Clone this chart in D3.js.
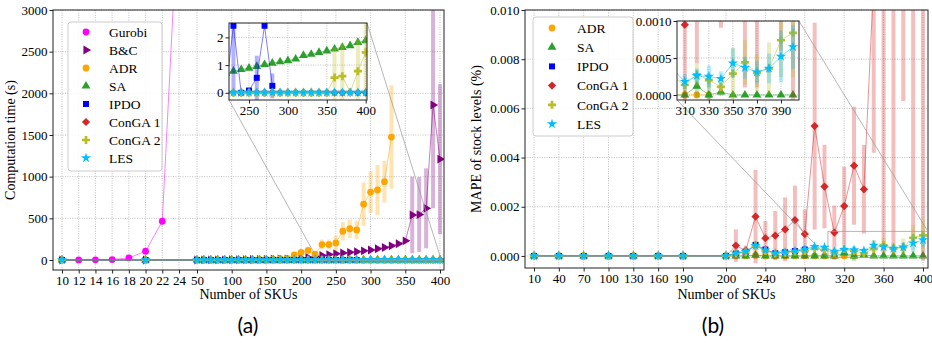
<!DOCTYPE html>
<html>
<head>
<meta charset="utf-8">
<script src="https://cdn.jsdelivr.net/npm/d3@7"></script>
<style>
  body { margin: 0; background: #fff; }
  svg text { font-family: "Liberation Serif", "Times New Roman", serif; fill: #000; }
</style>
</head>
<body>
<svg id="chart" width="932" height="343"></svg>
<script>
// ---- data: (a) computation time (s) ----
const skusGurobi = [10, 12, 14, 16, 18, 20, 22, 24];
const gurobiTime = [0.5, 1, 2, 5, 25, 105, 465, 4400];

const skusA = [10, 20, 50, 60, 70, 80, 90, 100, 110, 120, 130, 140, 150, 160, 170, 180, 190,
  200, 210, 220, 230, 240, 250, 260, 270, 280, 290, 300, 310, 320, 330, 340, 350, 360, 370, 380, 390, 400];

const bcTime = [0, 0.1, 0.5, 0.8, 1, 1.5, 2, 3, 4, 5, 6, 7, 8, 10, 12, 14, 17,
  20, 30, 40, 55, 65, 75, 85, 92, 100, 110, 120, 135, 150, 170, 195, 230, 540, 545, 620, 1860, 1210];
const bcStd = [0, 0, 0, 0, 0, 0, 0, 0, 0, 0, 0, 0, 0, 0, 0, 0, 0,
  0, 0, 0, 0, 0, 0, 0, 0, 0, 0, 0, 0, 0, 0, 0, 0, 460, 450, 480, 1240, 900];

const adrTime = [0.05, 0.1, 0.3, 0.5, 0.8, 1, 1.5, 2, 3, 4, 5, 6, 8, 10, 15, 18, 60,
  90, 115, 70, 185, 185, 205, 345, 375, 360, 670, 815, 840, 940, 1475, null, null, null, null, null, null, null];
const adrStd = [0, 0, 0, 0, 0, 0, 0, 0, 0, 0, 0, 0, 0, 0, 10, 10, 15,
  20, 25, 40, 60, 60, 90, 110, 110, 110, 260, 250, 300, 250, 620, null, null, null, null, null, null, null];

const saTime = [0.01, 0.02, 0.1, 0.12, 0.15, 0.18, 0.2, 0.23, 0.26, 0.3, 0.33, 0.37, 0.4, 0.44, 0.48, 0.52, 0.56,
  0.6, 0.65, 0.7, 0.78, 0.84, 0.89, 0.95, 1.02, 1.07, 1.12, 1.16, 1.22, 1.35, 1.39, 1.46, 1.51, 1.58, 1.64, 1.7, 1.82, 1.88];

const ipdoTime = [0, 0.01, 0.01, 0.01, 0.01, 0.01, 0.01, 0.01, 0.01, 0.02, 0.02, 0.02, 0.02, 0.02, 0.02, 0.02, 0.02,
  0.02, 0.03, 0.03, 2.42, 0, 0.08, 0.54, 2.42, 0.25, null, null, null, null, null, null, null, null, null, null, null, null];
const ipdoStd = [0, 0, 0, 0, 0, 0, 0, 0, 0, 0, 0, 0, 0, 0, 0, 0, 0,
  0, 0, 0, 2.5, 0, 0.1, 0.8, 0, 0.45, null, null, null, null, null, null, null, null, null, null, null, null];

const conga1Time = [0, 0, 0.01, 0.01, 0.01, 0.01, 0.01, 0.01, 0.01, 0.01, 0.01, 0.01, 0.01, 0.01, 0.01, 0.01, 0.01,
  0.01, 0.01, 0.01, 0.01, 0.01, 0.01, 0.01, 0.01, 0.01, 0.01, 0.01, 0.01, 0.01, 0.01, 0.01, 0.01, 0.01, 0.01, 0.01, 0.01, 0.01];

const conga2Time = [0, 0, 0, 0, 0, 0, 0, 0, 0, 0, 0, 0, 0, 0, 0, 0, 0,
  0, 0, 0, 0, 0, 0, 0, 0, 0, 0, 0, 0, 0, 0, 0, 0, 0.55, 0.6, 0.02, 0.78, 1.46];
const conga2Std = [0, 0, 0, 0, 0, 0, 0, 0, 0, 0, 0, 0, 0, 0, 0, 0, 0,
  0, 0, 0, 0, 0, 0, 0, 0, 0, 0, 0, 0, 0, 0, 0, 0, 1.1, 1.2, 0, 1.15, 1.6];

const lesTime = [0, 0, 0.01, 0.01, 0.01, 0.01, 0.01, 0.01, 0.01, 0.01, 0.01, 0.01, 0.01, 0.01, 0.01, 0.01, 0.01,
  0.01, 0.01, 0.01, 0.01, 0.01, 0.01, 0.01, 0.01, 0.01, 0.01, 0.01, 0.01, 0.01, 0.01, 0.01, 0.01, 0.01, 0.01, 0.01, 0.01, 0.01];

// ---- data: (b) MAPE of stock levels (%) ----
const skusB = [10, 40, 70, 100, 130, 160, 190, 200, 210, 220, 230, 240, 250, 260, 270, 280,
  290, 300, 310, 320, 330, 340, 350, 360, 370, 380, 390, 400];

const adrMape = [0, 0, 0, 0, 0, 0, 0, 0, 0, 0, 0.00002, 0, 0, 0, 0, 0,
  0, 0, 0, 0, 0, null, null, null, null, null, null, null];
const saMape = [0, 0, 0, 0, 0, 0, 0, 0, 0, 0, 0.00003, 0, 0, 0, 0, 0,
  0, 0, 0, 0.00012, 0, 0.00004, 0, 0, 0, 0, 0, 0];
const saMapeStd = [0, 0, 0, 0, 0, 0, 0, 0, 0, 0, 0, 0, 0, 0, 0, 0,
  0, 0, 0, 0.00015, 0.0002, 0.00005, 0, 0, 0, 0, 0, 0];
const ipdoMape = [0, 0, 0, 0, 0, 0, 0, 0, 0.0001, 0.00017, 0.00045, 0.00026, 0.00011, 0.00015, 0.0002, 0.00026,
  null, null, null, null, null, null, null, null, null, null, null, null];
const conga1Mape = [0, 0, 0, 0, 0, 0, 0, 0, 0.00042, 0.00022, 0.0016, 0.00072, 0.00083, 0.00108, 0.00146, 0.00089,
  0.00528, 0.00282, 0.00095, 0.00203, 0.00367, 0.00271, 0.0112, 0.015, 0.016, 0.014, 0.02, 0.018];
const conga1MapeStd = [0, 0, 0, 0, 0, 0, 0, 0, 0.00066, 0.0002, 0.0019, 0.0007, 0.001, 0.0013, 0.0014, 0.001,
  0.0042, 0.0017, 0.0011, 0.0016, 0.0024, 0.0018, 0.007, 0.0149, 0.0159, 0.0077, 0.0194, 0.0182];
const conga2Mape = [0, 0, 0, 0, 0, 0, 0, 0, 0.0001, 0.00015, 0.0004, 0.0002, 0.0001, 0.00013, 0.00018, 0.0002,
  0.0003, 0.00025, 0.000135, 0.00028, 0.0002, 0.00011, 0.00029, 0.00044, 0.0003, 0.00036, 0.00074, 0.00084];
const conga2MapeStd = [0, 0, 0, 0, 0, 0, 0, 0, 0, 0, 0.0001, 0, 0, 0, 0, 0,
  0.0001, 0.0001, 0.0001, 0.00015, 0.0001, 0.0001, 0.00035, 0.0003, 0.00025, 0.00035, 0.0005, 0.0006];
const lesMape = [0, 0, 0, 0, 0, 0, 0, 0, 0.00011, 0.00018, 0.00042, 0.00024, 0.00011, 0.00015, 0.0002, 0.00027,
  0.00038, 0.00035, 0.00018, 0.00026, 0.00025, 0.00022, 0.00043, 0.00037, 0.00031, 0.00036, 0.00052, 0.00065];
const lesMapeStd = [0, 0, 0, 0, 0, 0, 0, 0, 0.00005, 0.00005, 0.0001, 0.00005, 0.00005, 0.00005, 0.00005, 0.00005,
  0.0001, 0.0001, 0.0001, 0.0001, 0.00015, 0.0001, 0.0002, 0.00015, 0.00015, 0.0002, 0.00035, 0.0003];

// ---- ticks ----
const xTicksA = [10, 12, 14, 16, 18, 20, 22, 24, 50, 100, 150, 200, 250, 300, 350, 400];
const yTicksA = [0, 500, 1000, 1500, 2000, 2500, 3000];
const xTicksInsetA = [250, 300, 350, 400];
const yTicksInsetA = [0, 1, 2];
const xTicksB = [10, 40, 70, 100, 130, 160, 190, 200, 240, 280, 320, 360, 400];
const yTicksB = [0, 0.002, 0.004, 0.006, 0.008, 0.010];
const xTicksInsetB = [310, 330, 350, 370, 390];
const yTicksInsetB = [0, 0.0005, 0.001];

const methods = {
  'Gurobi': { color: '#ff00ff', shape: 'circle' },
  'B&C': { color: '#800080', shape: 'triRight' },
  'ADR': { color: '#ffa500', shape: 'circle' },
  'SA': { color: '#2ca02c', shape: 'triUp' },
  'IPDO': { color: '#0000ff', shape: 'square' },
  'ConGA 1': { color: '#d62728', shape: 'diamond' },
  'ConGA 2': { color: '#bcbd22', shape: 'plus' },
  'LES': { color: '#00bfff', shape: 'star' },
};

const seriesA = [
  { name: 'Gurobi', xs: skusGurobi, values: gurobiTime },
  { name: 'B&C', xs: skusA, values: bcTime, errors: bcStd },
  { name: 'ADR', xs: skusA, values: adrTime, errors: adrStd },
  { name: 'SA', xs: skusA, values: saTime },
  { name: 'IPDO', xs: skusA, values: ipdoTime, errors: ipdoStd },
  { name: 'ConGA 1', xs: skusA, values: conga1Time },
  { name: 'ConGA 2', xs: skusA, values: conga2Time, errors: conga2Std },
  { name: 'LES', xs: skusA, values: lesTime },
];

const seriesB = [
  { name: 'ADR', xs: skusB, values: adrMape },
  { name: 'SA', xs: skusB, values: saMape, errors: saMapeStd },
  { name: 'IPDO', xs: skusB, values: ipdoMape },
  { name: 'ConGA 1', xs: skusB, values: conga1Mape, errors: conga1MapeStd },
  { name: 'ConGA 2', xs: skusB, values: conga2Mape, errors: conga2MapeStd },
  { name: 'LES', xs: skusB, values: lesMape, errors: lesMapeStd },
];

const shapes = {
  circle: { type: d3.symbolCircle, size: 36, rotate: 0 },
  triRight: { type: d3.symbolTriangle, size: 34, rotate: 90 },
  triUp: { type: d3.symbolTriangle, size: 34, rotate: 0 },
  square: { type: d3.symbolSquare, size: 36, rotate: 0 },
  diamond: { type: d3.symbolSquare, size: 34, rotate: 45 },
  plus: { type: d3.symbolCross, size: 36, rotate: 0 },
  star: { type: d3.symbolStar, size: 32, rotate: 0 },
};

const svg = d3.select('#chart');
const defs = svg.append('defs');
const FONT = 'Liberation Serif, Times New Roman, serif';
const TICK_FONT = 13;

function marker(sel, shapeName) {
  const s = shapes[shapeName];
  return sel.attr('d', d3.symbol().type(s.type).size(s.size)());
}

function panel(box, x, y, xTicks, yTicks, clipId) {
  const g = svg.append('g');
  defs.append('clipPath').attr('id', clipId)
    .append('rect')
    .attr('x', box.left).attr('y', box.top)
    .attr('width', box.right - box.left).attr('height', box.bottom - box.top);

  g.append('rect')
    .attr('x', box.left).attr('y', box.top)
    .attr('width', box.right - box.left).attr('height', box.bottom - box.top)
    .attr('fill', '#fff');

  const grid = g.append('g')
    .attr('stroke', '#b0b0b0').attr('stroke-width', 0.8).attr('stroke-dasharray', '1,1.4');
  grid.selectAll('line.v').data(xTicks).join('line').attr('class', 'v')
    .attr('x1', (d) => x(d)).attr('x2', (d) => x(d))
    .attr('y1', box.top).attr('y2', box.bottom);
  grid.selectAll('line.h').data(yTicks).join('line').attr('class', 'h')
    .attr('x1', box.left).attr('x2', box.right)
    .attr('y1', (d) => y(d)).attr('y2', (d) => y(d));

  const plot = g.append('g').attr('clip-path', `url(#${clipId})`);
  return { g, plot };
}

function drawSeries(plot, x, y, s) {
  const m = methods[s.name];
  const pts = s.xs
    .map((d, i) => ({ x: d, v: s.values[i], e: s.errors ? s.errors[i] : 0 }))
    .filter((p) => p.v != null);

  const g = plot.append('g');
  g.append('g').selectAll('line')
    .data(pts.filter((p) => p.e > 0))
    .join('line')
    .attr('x1', (p) => x(p.x)).attr('x2', (p) => x(p.x))
    .attr('y1', (p) => y(p.v - p.e)).attr('y2', (p) => y(p.v + p.e))
    .attr('stroke', m.color).attr('stroke-opacity', 0.3).attr('stroke-width', 4);

  g.append('path').datum(pts)
    .attr('d', d3.line().x((p) => x(p.x)).y((p) => y(p.v)))
    .attr('fill', 'none').attr('stroke', m.color)
    .attr('stroke-opacity', 0.5).attr('stroke-width', 1);

  g.append('g').selectAll('path')
    .data(pts)
    .join('path')
    .call(marker, m.shape)
    .attr('transform', (p) => `translate(${x(p.x)},${y(p.v)}) rotate(${shapes[m.shape].rotate})`)
    .attr('fill', m.color);
}

function axes(g, box, x, y, xTicks, yTicks, xFormat, yFormat) {
  const ax = g.append('g')
    .attr('transform', `translate(0,${box.bottom})`)
    .call(d3.axisBottom(x).tickValues(xTicks).tickSize(3.5).tickPadding(2).tickFormat(xFormat));
  const ay = g.append('g')
    .attr('transform', `translate(${box.left},0)`)
    .call(d3.axisLeft(y).tickValues(yTicks).tickSize(3.5).tickPadding(2).tickFormat(yFormat));
  [ax, ay].forEach((a) => {
    a.attr('font-family', FONT).attr('font-size', TICK_FONT);
    a.select('.domain').remove();
    a.selectAll('.tick line').attr('stroke', '#222');
  });
  g.append('rect')
    .attr('x', box.left).attr('y', box.top)
    .attr('width', box.right - box.left).attr('height', box.bottom - box.top)
    .attr('fill', 'none').attr('stroke', '#222').attr('stroke-width', 1);
}

function zoomMarks(g, x, y, inset, insetX, insetY) {
  const dx = insetX.domain();
  const dy = insetY.domain();
  const x0 = x(dx[0]);
  const x1 = x(dx[1]);
  const y0 = y(dy[0]);
  const y1 = y(dy[1]);
  const lines = g.append('g')
    .attr('stroke', '#999').attr('stroke-opacity', 0.8).attr('stroke-width', 0.9).attr('fill', 'none');
  lines.append('rect').attr('x', x0).attr('y', y1).attr('width', x1 - x0).attr('height', Math.max(0.5, y0 - y1));
  lines.append('line').attr('x1', inset.left).attr('y1', inset.bottom).attr('x2', x0).attr('y2', y0);
  lines.append('line').attr('x1', inset.right).attr('y1', inset.top).attr('x2', x1).attr('y2', y1);
}

function legend(items, box, rowTop, step, markerX, textX) {
  const g = svg.append('g');
  g.append('rect')
    .attr('x', box.left).attr('y', box.top)
    .attr('width', box.right - box.left).attr('height', box.bottom - box.top)
    .attr('rx', 3)
    .attr('fill', '#fff').attr('fill-opacity', 0.85)
    .attr('stroke', '#ccc').attr('stroke-width', 1);
  const rows = g.selectAll('g.row').data(items).join('g')
    .attr('class', 'row')
    .attr('transform', (d, i) => `translate(0,${rowTop + i * step})`);
  rows.append('path')
    .each(function(d) {
      const m = methods[d];
      d3.select(this).call(marker, m.shape)
        .attr('transform', `translate(${markerX},0) rotate(${shapes[m.shape].rotate})`)
        .attr('fill', m.color);
    });
  rows.append('text')
    .attr('x', textX).attr('dy', '0.35em')
    .attr('font-size', 13.5)
    .text((d) => d);
}

// ---- panel (a) ----
const boxA = { left: 53, right: 444, top: 10, bottom: 270 };
const xA = d3.scaleLinear().domain([10, 24, 50, 400]).range([62, 179, 197, 440]);
const yA = d3.scaleLinear().domain([-120, 3000]).range([270, 10]);

const pA = panel(boxA, xA, yA, xTicksA, yTicksA, 'clipA');
seriesA.forEach((s) => drawSeries(pA.plot, xA, yA, s));
axes(pA.g, boxA, xA, yA, xTicksA, yTicksA, d3.format('d'), d3.format('d'));

const insetA = { left: 229, right: 367, top: 23, bottom: 100 };
const xIA = d3.scaleLinear().domain([224.3, 401.7]).range([insetA.left, insetA.right]);
const yIA = d3.scaleLinear().domain([-0.26, 2.52]).range([insetA.bottom, insetA.top]);
zoomMarks(pA.g, xA, yA, insetA, xIA, yIA);

legend(['Gurobi', 'B&C', 'ADR', 'SA', 'IPDO', 'ConGA 1', 'ConGA 2', 'LES'],
  { left: 68, right: 162, top: 22, bottom: 171 }, 32, 18, 86, 109);

const piA = panel(insetA, xIA, yIA, xTicksInsetA, yTicksInsetA, 'clipIA');
seriesA.filter((s) => s.name !== 'Gurobi').forEach((s) => drawSeries(piA.plot, xIA, yIA, s));
axes(piA.g, insetA, xIA, yIA, xTicksInsetA, yTicksInsetA, d3.format('d'), d3.format('d'));

svg.append('text')
  .attr('transform', `translate(15,${(boxA.top + boxA.bottom) / 2}) rotate(-90)`)
  .attr('text-anchor', 'middle').attr('font-size', 14)
  .text('Computation time (s)');
svg.append('text')
  .attr('x', (boxA.left + boxA.right) / 2).attr('y', 299)
  .attr('text-anchor', 'middle').attr('font-size', 14)
  .text('Number of SKUs');
svg.append('text')
  .attr('x', 248).attr('y', 333)
  .attr('text-anchor', 'middle').attr('font-size', 21)
  .style('font-family', 'Lato, DejaVu Sans, sans-serif')
  .text('(a)');

// ---- panel (b) ----
const boxB = { left: 525, right: 928, top: 10, bottom: 268 };
const xB = d3.scaleLinear().domain([10, 190, 200, 400]).range([534, 683, 726, 923]);
const yB = d3.scaleLinear().domain([-0.00049, 0.010]).range([268, 10]);

const pB = panel(boxB, xB, yB, xTicksB, yTicksB, 'clipB');
seriesB.forEach((s) => drawSeries(pB.plot, xB, yB, s));
axes(pB.g, boxB, xB, yB, xTicksB, yTicksB, d3.format('d'), d3.format('.3f'));

const insetB = { left: 677, right: 799, top: 21, bottom: 100 };
const xIB = d3.scaleLinear().domain([303.5, 405]).range([insetB.left, insetB.right]);
const yIB = d3.scaleLinear().domain([-0.0000676, 0.001]).range([insetB.bottom, insetB.top]);
zoomMarks(pB.g, xB, yB, insetB, xIB, yIB);

legend(['ADR', 'SA', 'IPDO', 'ConGA 1', 'ConGA 2', 'LES'],
  { left: 533, right: 633, top: 17, bottom: 136 }, 28, 19.2, 552, 577);

const piB = panel(insetB, xIB, yIB, xTicksInsetB, yTicksInsetB, 'clipIB');
seriesB.forEach((s) => drawSeries(piB.plot, xIB, yIB, s));
axes(piB.g, insetB, xIB, yIB, xTicksInsetB, yTicksInsetB, d3.format('d'), d3.format('.4f'));

svg.append('text')
  .attr('transform', `translate(481,${(boxB.top + boxB.bottom) / 2}) rotate(-90)`)
  .attr('text-anchor', 'middle').attr('font-size', 14)
  .text('MAPE of stock levels (%)');
svg.append('text')
  .attr('x', (boxB.left + boxB.right) / 2).attr('y', 299)
  .attr('text-anchor', 'middle').attr('font-size', 14)
  .text('Number of SKUs');
svg.append('text')
  .attr('x', 713).attr('y', 333)
  .attr('text-anchor', 'middle').attr('font-size', 21)
  .style('font-family', 'Lato, DejaVu Sans, sans-serif')
  .text('(b)');
</script>
</body>
</html>
